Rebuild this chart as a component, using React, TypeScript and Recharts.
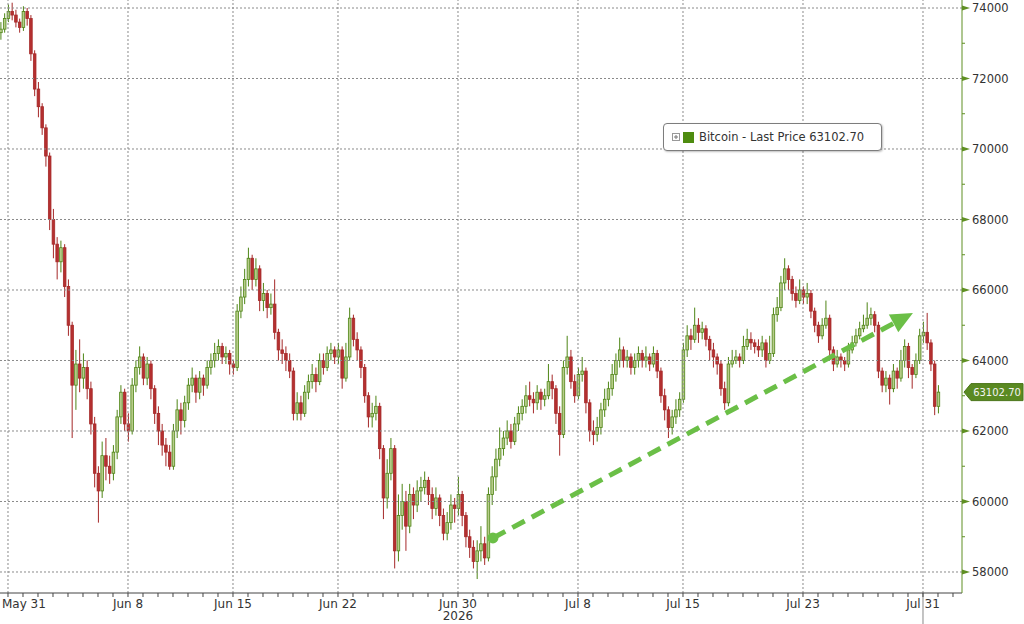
import React from 'react';
import { ComposedChart, Bar, XAxis, YAxis, ReferenceLine } from 'recharts';

// 6-hour candles starting May 30 12:00; open of each candle = previous close
const firstOpen = 73300;
const closes = [
  73400, 73700, 73900, 73800, 73600, 73450, 73900, 73700,
  72700, 71700, 71200, 70600, 69800, 68000, 67300, 66800,
  67200, 66100, 65000, 63300, 63900, 63500, 63800, 63200,
  62200, 60800, 60300, 61300, 61000, 60800, 61400, 62400,
  63100, 62200, 62000, 63300, 63800, 64100, 63500, 63900,
  63200, 62500, 62000, 61600, 61400, 61000, 62000, 62600,
  62300, 62800, 63300, 63500, 63100, 63500, 63300, 63800,
  64000, 64200, 64400, 64100, 64200, 63900, 63800, 65400,
  65800, 66300, 66900, 66300, 66600, 65700, 65900, 65500,
  65600, 64800, 64300, 64200, 64000, 63700, 62500, 62800,
  62500, 63100, 63400, 63600, 63400, 64000, 63800, 64200,
  64300, 64100, 64300, 63500, 64100, 65200, 64600, 64300,
  63800, 63000, 62400, 62500, 62700, 61500, 60100, 60800,
  61500, 58600, 59600, 60000, 59300, 60200, 59900, 60300,
  60400, 60600, 60200, 59800, 60100, 59600, 59100, 59400,
  59900, 59800, 60200, 59600, 59000, 58700, 58300, 58600,
  58800, 58400, 60200, 60700, 61200, 61500, 61800, 62000,
  61700, 62200, 62500, 62700, 63000, 62900, 62800, 63100,
  62900, 63000, 63400, 63200, 62500, 61900, 63800, 64100,
  63400, 63000, 63600, 63700, 62800, 62000, 61900, 62100,
  62600, 62900, 63200, 63600, 64000, 64300, 64000, 64100,
  63800, 64000, 64200, 64000, 64100, 63900, 64200, 63700,
  63000, 62600, 62100, 62400, 62600, 62900, 64300, 64700,
  64600, 65000, 64800, 64900, 64600, 64300, 64100, 63900,
  63200, 62800, 63900, 64000, 64100, 64000, 64400, 64600,
  64500, 64400, 64300, 64500, 64000, 64200, 65300, 65500,
  66200, 66600, 66300, 65900, 65700, 66000, 65800, 65900,
  65400, 65000, 64700, 65000, 65200, 64300, 63900, 64100,
  64000, 63900, 64300, 64500, 64700, 64900, 65000, 65200,
  65300, 65000, 63700, 63300, 63500, 63200, 63700, 63500,
  64000, 64400, 63800, 63600, 64000, 64700, 64800, 64500,
  63900, 62700, 63102.7,
];
const highs = [
  73600, 73850, 74100, 74150, 73950, 73700, 74050, 74000,
  73800, 72800, 71900, 71300, 70700, 69900, 68300, 67500,
  67400, 67300, 66300, 65100, 64300, 64600, 64200, 64000,
  63400, 62400, 61000, 61700, 61800, 61300, 61600, 62600,
  63300, 63200, 62500, 63500, 64000, 64400, 64200, 64100,
  64000, 63300, 62700, 62200, 61800, 61600, 62200, 62900,
  62800, 63000, 63500, 63800, 63600, 63700, 63600, 64000,
  64200, 64500, 64600, 64500, 64400, 64300, 64000, 65600,
  66100, 66600, 67200, 67000, 66900, 66700, 66200, 66000,
  65900, 66300, 64900, 64600, 64400, 64200, 63800, 63100,
  63000, 63300, 63600, 63900, 63800, 64200, 64200, 64400,
  64500, 64400, 64500, 64400, 64500, 65500, 65300, 64800,
  64400, 63900, 63100, 62800, 63000, 62800, 61600, 61200,
  61800, 61600, 60200, 60500, 60300, 60500, 60400, 60600,
  60700, 60850, 60700, 60400, 60400, 60200, 59800, 59700,
  60200, 60100, 60700, 60300, 59700, 59200, 58900, 58900,
  59300, 59000, 60400, 61000, 61500, 62100, 62000, 62300,
  62200, 62400, 62700, 62900, 63300, 63400, 63100, 63300,
  63200, 63200, 63900, 63600, 63300, 62700, 64000, 64700,
  64300, 63600, 63800, 64100, 63800, 62900, 62300, 62400,
  62800, 63200, 63400, 63900, 64200, 64650, 64400, 64300,
  64200, 64200, 64400, 64300, 64400, 64200, 64400, 64300,
  63800, 63200, 62700, 62600, 62900, 63100, 64500, 65000,
  64900, 65500, 65200, 65100, 65000, 64700, 64500, 64200,
  64000, 63400, 64100, 64300, 64300, 64200, 64700, 64900,
  64800, 64600, 64600, 64700, 64600, 64700, 65500, 65800,
  66400, 66900, 66700, 66400, 66100, 66300, 66100, 66200,
  66000, 65500, 65100, 65200, 65700, 65300, 64400, 64300,
  64200, 64100, 64500, 64700, 64900, 65100, 65300, 65650,
  65500, 65400, 65100, 63800, 63700, 63600, 63900, 63800,
  64300, 64600, 64500, 63900, 64200, 64900, 65100, 65350,
  64600, 64000, 63300,
];
const lows = [
  73100, 73300, 73600, 73650, 73450, 73300, 73350, 73500,
  72500, 71500, 70900, 70400, 69500, 67700, 66900, 66300,
  66500, 65800, 64700, 61800, 62600, 63100, 63200, 62900,
  61900, 60400, 59400, 60100, 60600, 60500, 60600, 61200,
  62200, 62000, 61700, 61900, 63100, 63600, 63300, 63300,
  62900, 62200, 61600, 61300, 61000, 60900, 60900, 61800,
  61900, 62100, 62600, 63100, 62800, 62900, 63000, 63200,
  63600, 63800, 64000, 63900, 63900, 63600, 63600, 63700,
  65200, 65600, 66100, 66000, 66100, 65400, 65400, 65200,
  65300, 64600, 64000, 63900, 63700, 63500, 62300, 62300,
  62300, 62400, 62900, 63200, 63100, 63300, 63600, 63700,
  64000, 63900, 63900, 63200, 63400, 64000, 64400, 64000,
  63500, 62800, 62100, 62100, 62300, 61200, 59500, 59800,
  60600, 58100, 58300, 59200, 58600, 59100, 59500, 59700,
  60000, 60200, 59900, 59500, 59600, 59300, 58900, 58900,
  59200, 59400, 59600, 59300, 58700, 58400, 58100, 57800,
  58300, 58200, 58300, 59900, 60300, 61000, 61300, 61600,
  61500, 61600, 62000, 62300, 62500, 62700, 62500, 62600,
  62600, 62700, 62900, 62900, 62200, 61300, 61800, 63600,
  63200, 62800, 62900, 63400, 62500, 61700, 61600, 61700,
  61900, 62400, 62700, 63000, 63400, 63800, 63800, 63800,
  63600, 63600, 63800, 63800, 63800, 63700, 63800, 63500,
  62800, 62300, 61800, 61900, 62200, 62400, 62800, 64100,
  64300, 64500, 64500, 64600, 64400, 64000, 63800, 63600,
  63000, 62600, 62700, 63800, 63900, 63800, 63900, 64300,
  64300, 64200, 64100, 64100, 63800, 63900, 64100, 65100,
  65400, 66000, 66000, 65700, 65500, 65600, 65600, 65600,
  65200, 64800, 64500, 64600, 64900, 64100, 63700, 63800,
  63800, 63700, 63800, 64200, 64400, 64600, 64800, 64900,
  65000, 64800, 63500, 63100, 63100, 62750, 63100, 63200,
  63400, 63800, 63500, 63200, 63500, 63900, 64500, 64300,
  63700, 62450, 62500,
];

const dateLabels = ['May 31', 'Jun 8', 'Jun 15', 'Jun 22', 'Jun 30', 'Jul 8', 'Jul 15', 'Jul 23', 'Jul 31'];
const dateDays = [0, 8, 15, 22, 30, 38, 45, 53, 61]; // days since May 31
const priceTicks = [58000, 60000, 62000, 64000, 66000, 68000, 70000, 72000, 74000];
const minorPriceTicks = [59000, 61000, 63000, 65000, 67000, 69000, 71000, 73000];
const lastPrice = 63102.7;
const seriesName = 'Bitcoin - Last Price';
const trendFrom = { day: 32.33, price: 58965 };
const trendTo = { day: 60.33, price: 65348 };

const candles = closes.map((close, i) => ({
  t: -0.5 + i * 0.25,
  open: i === 0 ? firstOpen : closes[i - 1],
  close,
  high: highs[i],
  low: lows[i],
  range: [lows[i], highs[i]],
}));

const dayTicks = Array.from({ length: 64 }, (_, d) => d);
const yTicks = [...priceTicks, ...minorPriceTicks].sort((a, b) => a - b);

const FONT = '"DejaVu Sans", Verdana, sans-serif';
const GRID = '#8a8a8a';
const AXIS_GREEN = '#5f8f22';
const ARROW = '#6bbf47';

function Candle(props: any) {
  const { x, y, width, height, payload } = props;
  if (!payload || x == null) return null;
  const { open, close, high, low } = payload;
  const top = Math.min(y, y + height);
  const h = Math.abs(height);
  const k = h / (high - low || 1);
  const up = close >= open;
  const bodyTop = top + (high - Math.max(open, close)) * k;
  const bodyH = Math.max(1, Math.abs(close - open) * k);
  const cx = x + width / 2;
  const stroke = up ? '#4e8515' : '#a52828';
  const fill = up ? '#b7cc8a' : '#b53030';
  return (
    <g>
      <line x1={cx} x2={cx} y1={top} y2={top + h} stroke={stroke} strokeWidth={1} />
      <rect x={x} y={bodyTop} width={width} height={bodyH} fill={fill} stroke={stroke} strokeWidth={0.8} />
    </g>
  );
}

function DateTick(props: any) {
  const { x, y, payload } = props;
  const idx = dateDays.indexOf(payload.value);
  if (idx < 0) return null;
  const first = idx === 0;
  return (
    <g>
      <text x={first ? x - 6 : x} y={y + 9} textAnchor={first ? 'start' : 'middle'} fontSize={12} fontFamily={FONT} fill="#333">
        {dateLabels[idx]}
      </text>
      {dateLabels[idx] === 'Jun 30' && (
        <text x={x} y={y + 21} textAnchor="middle" fontSize={12} fontFamily={FONT} fill="#333">2026</text>
      )}
    </g>
  );
}

function PriceTick(props: any) {
  const { x, y, payload } = props;
  const major = priceTicks.includes(payload.value);
  if (!major) {
    return <line x1={x} x2={x + 3} y1={y} y2={y} stroke={AXIS_GREEN} strokeWidth={1} />;
  }
  return (
    <g>
      <polygon points={`${x},${y - 2.5} ${x + 8},${y} ${x},${y + 2.5}`} fill={AXIS_GREEN} />
      <text x={x + 10} y={y} dy="0.36em" fontSize={11.5} fontFamily={FONT} fill="#333">
        {payload.value}
      </text>
    </g>
  );
}

function PriceTag(props: any) {
  const vb = props.viewBox || {};
  const x0 = vb.x + vb.width + 2;
  const y0 = vb.y;
  const right = 1023;
  const h = 17;
  return (
    <g>
      <polygon
        points={`${x0},${y0} ${x0 + 7},${y0 - h / 2} ${right},${y0 - h / 2} ${right},${y0 + h / 2} ${x0 + 7},${y0 + h / 2}`}
        fill="#5a8a22"
        stroke="#4a7418"
      />
      <text x={(x0 + 7 + right) / 2} y={y0} dy="0.36em" textAnchor="middle" fontSize={10} fontFamily={FONT} fill="#f4f4f4">
        {lastPrice.toFixed(2)}
      </text>
    </g>
  );
}

function TrendArrow(props: any) {
  const { x1, y1, x2, y2 } = props;
  if (x1 == null) return null;
  const dx = x2 - x1;
  const dy = y2 - y1;
  const len = Math.hypot(dx, dy);
  const ux = dx / len;
  const uy = dy / len;
  const head = 22;
  const half = 10;
  const bx = x2 - ux * head;
  const by = y2 - uy * head;
  const px = -uy;
  const py = ux;
  return (
    <g>
      <line x1={x1} y1={y1} x2={bx} y2={by} stroke={ARROW} strokeWidth={5} strokeDasharray="14 8" />
      <circle cx={x1} cy={y1} r={5.5} fill={ARROW} />
      <polygon points={`${x2},${y2} ${bx + px * half},${by + py * half} ${bx - px * half},${by - py * half}`} fill={ARROW} />
    </g>
  );
}

export default function App() {
  return (
    <div style={{ position: 'fixed', left: 0, top: 0, width: 1024, height: 624, background: '#fff' }}>
      <ComposedChart width={1024} height={624} data={candles} margin={{ top: 0, right: 0, bottom: 0, left: 0 }}>
        <XAxis
          dataKey="t"
          type="number"
          domain={[-0.533, 63.6]}
          allowDataOverflow
          ticks={dayTicks}
          interval={0}
          height={31}
          tick={<DateTick />}
          tickSize={4}
          tickMargin={2}
          axisLine={{ stroke: '#444' }}
          tickLine={{ stroke: '#444' }}
        />
        <YAxis
          orientation="right"
          type="number"
          domain={[57404, 74227]}
          allowDataOverflow
          ticks={yTicks}
          interval={0}
          width={62}
          tickSize={0}
          tickMargin={0}
          tickLine={false}
          tick={<PriceTick />}
          axisLine={{ stroke: AXIS_GREEN }}
        />
        {priceTicks.map((p) => (
          <ReferenceLine key={'h' + p} y={p} stroke={GRID} strokeDasharray="2 2" />
        ))}
        {dateDays.map((d) => (
          <ReferenceLine key={'v' + d} x={d} stroke={GRID} strokeDasharray="2 2" />
        ))}
        <ReferenceLine
          segment={[{ x: 61, y: 57404 }, { x: 61, y: 56450 }]}
          ifOverflow="visible"
          stroke="#888"
        />
        <Bar dataKey="range" barSize={2.6} shape={<Candle />} isAnimationActive={false} />
        <ReferenceLine
          segment={[{ x: trendFrom.day, y: trendFrom.price }, { x: trendTo.day, y: trendTo.price }]}
          ifOverflow="visible"
          shape={<TrendArrow />}
        />
        <ReferenceLine y={lastPrice} stroke="none" label={<PriceTag />} />
      </ComposedChart>
      <div
        style={{
          position: 'absolute',
          left: 663,
          top: 123,
          width: 219,
          height: 28,
          border: '1px solid #7d7d7d',
          borderRadius: 4,
          background: '#fff',
          boxShadow: '1px 1px 2px rgba(0,0,0,0.25)',
          display: 'flex',
          alignItems: 'center',
          fontFamily: FONT,
          fontSize: 11.5,
          color: '#333',
          boxSizing: 'border-box',
          whiteSpace: 'nowrap',
        }}
      >
        <svg width={9} height={9} style={{ marginLeft: 8 }}>
          <rect x={0.5} y={0.5} width={7} height={7} fill="#fff" stroke="#999" />
          <line x1={2} x2={6} y1={4} y2={4} stroke="#777" />
          <line x1={4} x2={4} y1={2} y2={6} stroke="#777" />
        </svg>
        <span style={{ display: 'inline-block', width: 11, height: 11, background: '#4e8c10', marginLeft: 2, marginRight: 5 }} />
        <span>{seriesName} {lastPrice.toFixed(2)}</span>
      </div>
    </div>
  );
}
